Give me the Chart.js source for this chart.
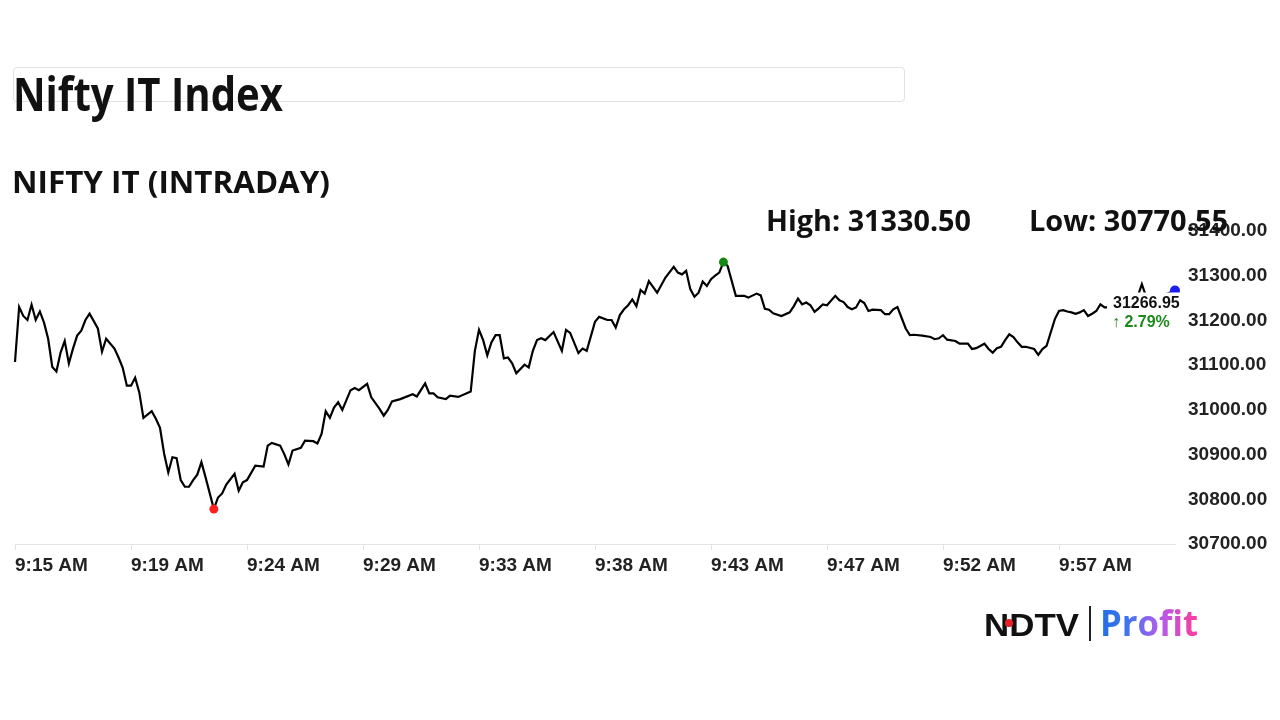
<!DOCTYPE html>
<html lang="en">
<head>
<meta charset="utf-8">
<title>Nifty IT Index</title>
<script src="https://cdn.jsdelivr.net/npm/chart.js@4.4.1/dist/chart.umd.min.js"></script>
<style>
    html, body { margin: 0; padding: 0; background: #fff; }
    #page { position: relative; width: 1280px; height: 720px; overflow: hidden; font-family: "Open Sans", sans-serif; color: #111; }
    #chart-wrap { position: absolute; left: 0; top: 0; width: 1280px; height: 720px; }
    .title-box { position: absolute; left: 13px; top: 67px; width: 890px; height: 33px; border: 1px solid #e2e2e2; border-radius: 4px; }
    .fit { position: absolute; white-space: nowrap; line-height: 1; font-weight: 700; transform-origin: 0 0; }
    #main-title { left: 13px; top: 70px; font-size: 46px; }
    #sub-title { left: 12px; top: 166px; font-size: 31px; }
    #high-text { left: 766px; top: 205px; font-size: 29px; }
    #low-text { left: 1029px; top: 205px; font-size: 29px; }
    #ndtv { left: 984px; top: 610px; font-family: "Liberation Sans", Arial, sans-serif; font-size: 31px; font-weight: 900; color: #111; }
    #ndtv-dot { position: absolute; left: 1005px; top: 619px; width: 8px; height: 8px; border-radius: 50%; background: #e8202a; }
    #logo-bar { position: absolute; left: 1089px; top: 606px; width: 2px; height: 35px; background: #222; }
    #profit { left: 1100px; top: 605px; font-size: 35px;
        background: linear-gradient(90deg, #1f6fe3 0%, #3f74ee 28%, #b05cf0 60%, #ff3b9a 100%);
        -webkit-background-clip: text; background-clip: text; color: transparent; }
</style>
</head>
<body>
<div id="page">
    <div class="title-box"></div>
    <div id="chart-wrap"><canvas id="nifty-it-chart" width="1280" height="720"></canvas></div>
    <div class="fit" id="main-title" data-w="270">Nifty IT Index</div>
    <div class="fit" id="sub-title" data-w="318">NIFTY IT (INTRADAY)</div>
    <div class="fit" id="high-text" data-w="205">High: 31330.50</div>
    <div class="fit" id="low-text" data-w="199">Low: 30770.55</div>
    <div class="fit" id="ndtv" data-w="95">NDTV</div>
    <div id="ndtv-dot"></div>
    <div id="logo-bar"></div>
    <div class="fit" id="profit" data-w="98">Profit</div>
</div>
<script>
// seconds after 9:15 AM
const times = [
    0, 10, 20, 30, 40, 50, 60, 70, 80, 90, 100, 110, 120, 130, 140, 150, 160, 170, 180, 200,
    210, 220, 240, 250, 260, 270, 280, 290, 300, 310, 330, 340, 350, 360, 370, 380, 390, 400, 410, 420,
    430, 440, 450, 460, 480, 490, 500, 510, 530, 540, 550, 560, 580, 600, 610, 620, 640, 650, 660, 670,
    690, 700, 720, 730, 740, 750, 760, 770, 780, 790, 810, 820, 830, 850, 860, 880, 890, 900, 910, 930,
    960, 970, 990, 1000, 1010, 1020, 1040, 1050, 1070, 1100, 1110, 1120, 1130, 1140, 1150, 1160, 1170, 1180, 1190, 1200,
    1210, 1230, 1240, 1250, 1260, 1270, 1280, 1300, 1320, 1330, 1340, 1360, 1370, 1380, 1400, 1410, 1430, 1440, 1450, 1460,
    1470, 1480, 1490, 1500, 1510, 1520, 1530, 1540, 1550, 1570, 1590, 1600, 1610, 1620, 1630, 1640, 1650, 1660, 1670, 1680,
    1690, 1700, 1710, 1720, 1740, 1760, 1770, 1790, 1800, 1810, 1820, 1830, 1850, 1870, 1880, 1890, 1900, 1910, 1920, 1930,
    1940, 1950, 1960, 1980, 1990, 2000, 2010, 2020, 2030, 2040, 2050, 2060, 2070, 2090, 2100, 2110, 2120, 2130, 2140, 2150,
    2160, 2170, 2190, 2210, 2220, 2230, 2240, 2250, 2270, 2280, 2300, 2310, 2320, 2340, 2350, 2360, 2370, 2380, 2390, 2400,
    2410, 2420, 2430, 2440, 2460, 2470, 2480, 2490, 2500, 2510, 2520, 2530, 2540, 2550, 2560, 2570, 2580, 2590, 2600, 2610,
    2620, 2630, 2640, 2660, 2690, 2710, 2720, 2730, 2760, 2800
];
const prices = [
    31107, 31230, 31210, 31201, 31235, 31201, 31220, 31195, 31159, 31096, 31086, 31128, 31154, 31104, 31137, 31166, 31177, 31201, 31215, 31182,
    31130, 31159, 31137, 31117, 31094, 31054, 31054, 31072, 31039, 30982, 30997, 30980, 30960, 30902, 30860, 30894, 30892, 30843, 30828, 30828,
    30843, 30855, 30883, 30849, 30778, 30804, 30813, 30833, 30857, 30819, 30838, 30843, 30875, 30873, 30920, 30926, 30920, 30901, 30878, 30909,
    30915, 30931, 30930, 30925, 30946, 30997, 30982, 31005, 31017, 31000, 31044, 31049, 31044, 31058, 31028, 31002, 30987, 31000, 31019, 31024,
    31035, 31030, 31059, 31037, 31037, 31028, 31024, 31032, 31029, 31041, 31132, 31179, 31156, 31122, 31151, 31167, 31167, 31115, 31117, 31104,
    31082, 31101, 31095, 31132, 31156, 31160, 31156, 31174, 31132, 31179, 31172, 31127, 31137, 31132, 31197, 31208, 31201, 31201, 31184, 31212,
    31225, 31234, 31247, 31232, 31268, 31260, 31288, 31275, 31262, 31296, 31320, 31307, 31303, 31311, 31270, 31253, 31262, 31287, 31277, 31292,
    31300, 31307, 31330.5, 31322, 31255, 31255, 31251, 31260, 31256, 31226, 31224, 31216, 31210, 31218, 31232, 31249, 31236, 31240, 31234, 31219,
    31227, 31236, 31234, 31255, 31245, 31241, 31230, 31225, 31229, 31245, 31239, 31221, 31224, 31223, 31214, 31214, 31225, 31230, 31206, 31182,
    31167, 31168, 31166, 31163, 31158, 31160, 31167, 31157, 31154, 31148, 31148, 31136, 31138, 31148, 31136, 31128, 31138, 31141, 31156, 31169,
    31163, 31151, 31141, 31141, 31136, 31123, 31136, 31143, 31173, 31203, 31221, 31223, 31220, 31218, 31215, 31218, 31223, 31210, 31215, 31221,
    31236, 31229, 31229, 31240, 31250, 31254, 31281, 31254, 31252, 31266.95
];
const tickTimes = [0, 280, 560, 840, 1120, 1400, 1680, 1960, 2240, 2520];
const tickLabels = ['9:15 AM', '9:19 AM', '9:24 AM', '9:29 AM', '9:33 AM', '9:38 AM', '9:43 AM', '9:47 AM', '9:52 AM', '9:57 AM'];
const yTicks = [30700, 30800, 30900, 31000, 31100, 31200, 31300, 31400];
const lastPrice = '31266.95';
const changeText = '\u2191 2.79%';

const minIdx = prices.indexOf(Math.min(...prices));
const maxIdx = prices.indexOf(Math.max(...prices));
const lastIdx = prices.length - 1;

function fitTexts() {
    document.querySelectorAll('.fit').forEach(function (el) {
        const target = parseFloat(el.dataset.w);
        const w = el.getBoundingClientRect().width;
        if (w > 0) {
            el.style.transform = 'scaleX(' + (target / w) + ')';
        }
    });
}

const tickFont = {family: '"Liberation Sans", Arial, sans-serif', size: 19, weight: 'bold'};

// white box with last price + change, drawn over the end of the line
const lastLabelPlugin = {
    id: 'lastLabel',
    afterDatasetsDraw(chart) {
        const pt = chart.getDatasetMeta(0).data[lastIdx];
        const ctx = chart.ctx;
        ctx.save();
        ctx.fillStyle = '#fff';
        ctx.fillRect(pt.x - 68, pt.y + 2, 78, 43);
        ctx.textAlign = 'left';
        ctx.textBaseline = 'middle';
        ctx.font = 'bold 16px "Liberation Sans", Arial, sans-serif';
        ctx.fillStyle = '#111';
        ctx.fillText(lastPrice, pt.x - 62, pt.y + 13);
        ctx.fillStyle = '#1b8a1b';
        ctx.fillText(changeText, pt.x - 63, pt.y + 32);
        ctx.restore();
    }
};

const chartConfig = {
    type: 'line',
    data: {
        datasets: [{
            data: times.map((t, i) => ({x: t, y: prices[i]})),
            borderColor: '#000',
            borderWidth: 2.2,
            tension: 0,
            clip: false,
            pointRadius: (c) => (c.dataIndex === minIdx || c.dataIndex === maxIdx) ? 4.5 : (c.dataIndex === lastIdx ? 5 : 0),
            pointBackgroundColor: (c) => c.dataIndex === minIdx ? '#ff1f1f' : (c.dataIndex === maxIdx ? '#138a13' : '#1c1cf0'),
            pointBorderWidth: 0
        }]
    },
    options: {
        responsive: false,
        animation: false,
        layout: {padding: {left: 15, top: 231, right: 0, bottom: 0}},
        plugins: {legend: {display: false}, tooltip: {enabled: false}},
        scales: {
            x: {
                type: 'linear',
                min: 0,
                max: 2800,
                afterBuildTicks: (s) => { s.ticks = tickTimes.map(v => ({value: v})); },
                afterFit: (s) => { s.height = 176; },
                ticks: {
                    align: 'start',
                    autoSkip: false,
                    maxRotation: 0,
                    padding: 4,
                    color: '#222',
                    font: tickFont,
                    callback: (v, i) => tickLabels[i]
                },
                grid: {drawOnChartArea: false, tickLength: 6, color: '#e3e3e3'},
                border: {color: '#e3e3e3'}
            },
            y: {
                position: 'right',
                min: 30700,
                max: 31400,
                afterBuildTicks: (s) => { s.ticks = yTicks.map(v => ({value: v})); },
                afterFit: (s) => { s.width = 105; },
                ticks: {
                    padding: 5,
                    color: '#222',
                    font: tickFont,
                    callback: (v) => Number(v).toFixed(2)
                },
                grid: {display: false},
                border: {display: false}
            }
        }
    },
    plugins: [lastLabelPlugin]
};

fitTexts();
const chartEl = document.querySelector('#nifty-it-chart');
if (chartEl) {
    const lineChart = new Chart(chartEl, chartConfig);
}
</script>
</body>
</html>
